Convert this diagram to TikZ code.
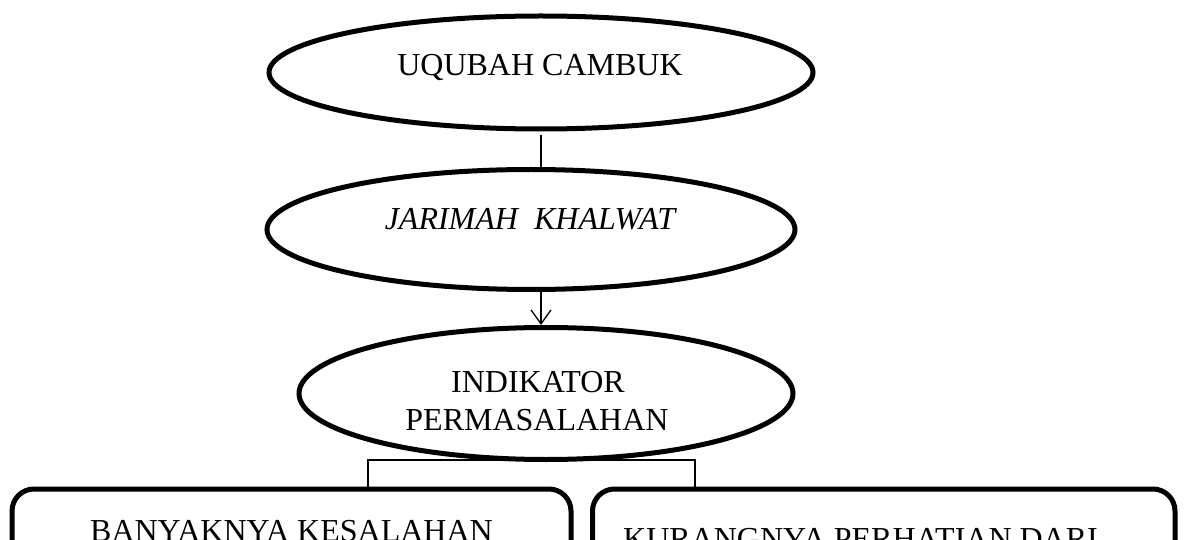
\documentclass[tikz,border=0pt]{standalone}
\usepackage{fontspec}
\setmainfont{Liberation Serif}
\usetikzlibrary{shapes.geometric,arrows.meta}
\begin{document}
\begin{tikzpicture}[x=1pt,y=-1pt,
  oval/.style={draw=black,line width=5pt,ellipse,inner sep=0pt},
  rbox/.style={draw=black,line width=5pt,rounded corners=22pt,rectangle,inner sep=0pt},
  lbl/.style={font=\fontsize{32}{38}\selectfont,inner sep=0pt,anchor=base},
  conn/.style={draw=black,line width=1.3pt}]
\useasboundingbox (0,0) rectangle (1184,540);
\clip (0,0) rectangle (1184,540);
% ellipses
\node[oval,minimum width=544pt,minimum height=113pt] (e1) at (541,72.5) {};
\node[oval,minimum width=528pt,minimum height=120pt] (e2) at (531,229.5) {};
\node[oval,minimum width=494pt,minimum height=132pt] (e3) at (546,393.5) {};
% boxes
\node[rbox,minimum width=559pt,minimum height=160pt] (b1) at (291.5,569) {};
\node[rbox,minimum width=582.5pt,minimum height=160pt] (b2) at (883.75,569) {};
% texts
\node[lbl] (t1) at (540,76) {UQUBAH CAMBUK};
\node[lbl] (t2) at (530,230) {\itshape JARIMAH\ \ KHALWAT};
\node[lbl] (t3a) at (538,392) {INDIKATOR};
\node[lbl] (t3b) at (537,430) {PERMASALAHAN};
\node[lbl] (t4) at (291.5,541) {BANYAKNYA KESALAHAN};
\node[lbl,anchor=base west] (t5) at (623,549) {KURANGNYA PERHATIAN DARI};
% connectors
\coordinate (m) at (541,300);
\draw[conn,shorten <=4pt] (m |- e1.south) -- (m |- e2.north);
\draw[conn,-{Straight Barb[length=14pt,width=20pt,line width=1.3pt]}] (m |- e2.south) -- (m |- e3.north);
\coordinate (j1) at (368,460);
\coordinate (j2) at (695,460);
\draw[conn] (j1 |- b1.north) -- (j1) -- (j2) -- (j2 |- b2.north);
\end{tikzpicture}
\end{document}
